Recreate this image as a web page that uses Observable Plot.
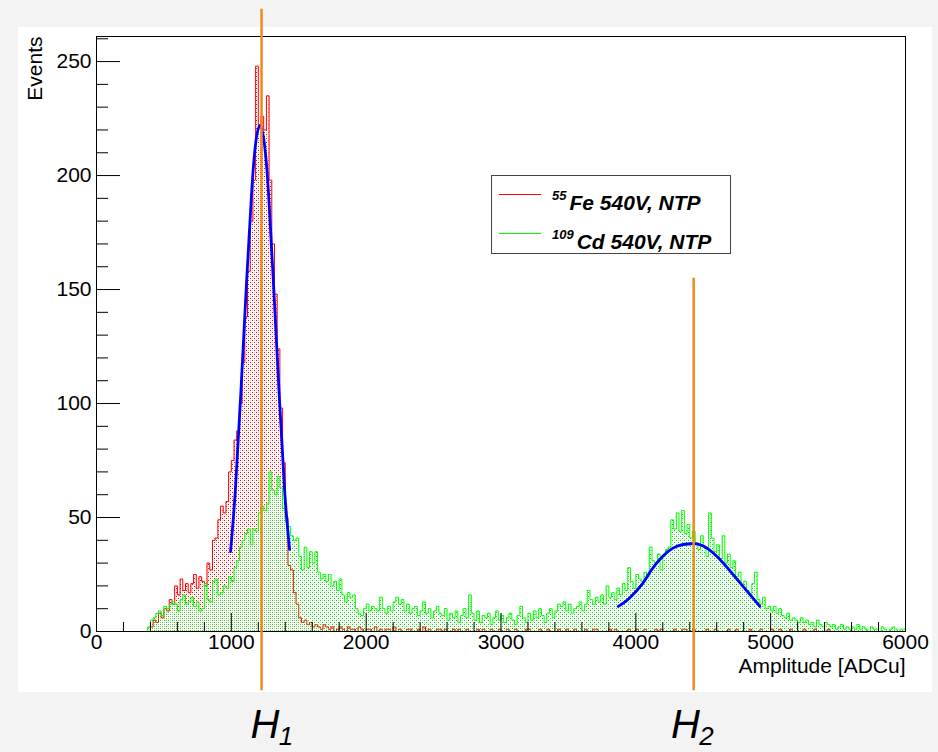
<!DOCTYPE html>
<html><head><meta charset="utf-8">
<script src="https://cdn.jsdelivr.net/npm/d3@7"></script>
<script src="https://cdn.jsdelivr.net/npm/@observablehq/plot@0.6"></script>
<style>
html,body{margin:0;padding:0;background:#f3f3f3;}
#wrap{position:relative;width:938px;height:752px;overflow:hidden;}
#panel{position:absolute;left:18px;top:27px;width:914px;height:665px;background:#fff;}
#chart{position:absolute;left:0;top:0;}
#legend{position:absolute;left:491px;top:175px;width:238px;height:77px;border:1px solid #444;background:#fff;
  font-family:"Liberation Sans",Arial,sans-serif;font-weight:bold;font-style:italic;font-size:21px;color:#000;}
#legend .sw{position:absolute;left:7px;width:42px;height:0;border-top:1px solid;}
#legend .lbl{position:absolute;left:60px;white-space:nowrap;line-height:24px;}
#legend .sup{font-size:13px;vertical-align:10px;margin-right:3px;}
</style></head>
<body>
<div id="wrap"><div id="panel"></div><div id="chart"></div><div id="legend"></div></div>
<script>
// ---- data ----
const binWidth = 20;
const feLabel = ["55", "Fe 540V, NTP"];
const cdLabel = ["109", "Cd 540V, NTP"];
const feStart = 400;
const feCounts = [
  2,5,4,8,6,10,9,14,12,20,16,23,18,21,17,21,25,19,24,22,20,30,27,40,41,49,55,52,57,70,
  75,84,88,100,118,138,158,180,198,248,222,226,220,235,198,170,148,124,98,74,50,29,
  27,17,12,6,4,5,3,4,2,3,2,1,3,2,
  1,2,0,1,2,1,0,2,1,1,0,2,1,0,1,
  1,0,2,0,1,0,1,1,0,2,0,1,0,0,1,1,0,0,1,0,2,0,1,0,0,
  1,1,0,1,0,0,1,0,1,0,0,1,0,0,0,1,0,1,0,0,1,0,0,1,0,
  0,1,0,0,1,0,0,0,1,1,0,0,0,1,0,0,1,0,0,0,1,0,0,1,0,
  0,1,0,0,0,1,0,0,1,1,0,0,0,0,1,0,1,0,0,0,0,1,0,0,1,
  0,0,1,0,0,0,1,0,1,0,0,0,0,1,0,0,1,1,0,0,1,0,0,0,0,
  1,0,0,1,0,0,0,0,1,0,0,1,0,0,0,0,1,0,0,0,1,0,0,0,1,
  0,0,1,0,0,0,1,0,0,0,0,1,0,0,0,1,0,0,0,0,1,0,0,0
];
const cdStart = 380;
const cdCounts = [
  2,5,6,8,9,7,11,10,12,13,12,
  9,14,16,12,13,15,11,13,9,10,21,14,13,22,23,16,17,20,19,24,
  22,28,31,37,40,43,45,38,45,44,52,55,53,56,70,62,60,68,63,54,
  48,46,42,40,41,33,27,37,28,35,30,35,26,23,25,22,25,20,22,18,
  23,16,13,17,15,16,10,8,7,10,12,9,11,10,9,15,10,8,11,9,
  13,15,12,14,9,12,8,10,11,7,9,13,8,10,6,9,11,8,7,10,
  5,8,6,9,4,7,10,6,16,8,5,9,4,7,6,8,3,6,9,5,
  7,4,6,8,5,3,7,11,6,4,8,5,9,6,10,7,4,8,10,6,
  9,12,11,13,9,12,8,10,11,13,9,12,18,14,12,15,13,16,12,20,
  15,17,14,19,16,21,18,28,22,19,25,23,22,26,24,37,31,30,34,27,
  33,36,37,49,45,52,44,53,43,47,41,44,39,36,42,37,33,52,41,35,
  38,32,42,30,34,28,31,24,26,20,22,18,16,21,26,14,12,15,10,11,
  9,11,8,10,7,6,8,5,6,5,4,6,4,5,3,4,2,5,3,2,
  4,3,2,3,1,2,3,1,2,1,2,1,3,1,2,1,0,2,1,1,
  0,2,1,0,1,2,1,0,1,1
];
const fit1X = [994,1030,1070,1110,1150,1180,1213,1245,1275,1315,1355,1395,1432];
const fit1Y = [35,62,104,150,192,214,222,214,193,150,104,62,36];
const fit2X = [3870,3950,4050,4110,4200,4300,4410,4500,4600,4700,4800,4920];
const fit2Y = [11,14.5,21,26.5,33,37.3,38.5,37.5,33,26.5,19.5,11];
const markerX = [1224, 4429];
const markerTop = [273, 155];
const markerBottom = [-26, -26];
const markerText = ["H", "H"];
const markerSub = ["1", "2"];
const markerTextX = [1250, 4368];
const xTicks = [0,1000,2000,3000,4000,5000,6000];
const yTicks = [0,50,100,150,200,250];
const xDomain = [0, 6000];
const yDomain = [0, 261];

// ---- build ----
function histRows(start, counts) {
  const rows = [];
  for (let x = xDomain[0]; x < start; x += binWidth) rows.push({x, y: 0});
  counts.forEach((c, i) => rows.push({x: start + i * binWidth, y: c}));
  for (let x = start + counts.length * binWidth; x < xDomain[1]; x += binWidth) rows.push({x, y: 0});
  rows.push({x: xDomain[1], y: 0});
  return rows;
}
const fe = histRows(feStart, feCounts);
const cd = histRows(cdStart, cdCounts);
const fit1 = fit1X.map((x, i) => ({x, y: fit1Y[i]}));
const fit2 = fit2X.map((x, i) => ({x, y: fit2Y[i]}));
const markers = markerX.map((x, i) => ({x, top: markerTop[i], bottom: markerBottom[i], t: markerText[i], s: markerSub[i], tx: markerTextX[i]}));
const xMinor = d3.range(0, 6001, 200).filter(d => d % 1000 !== 0);
const yMinor = d3.range(0, 261, 10).filter(d => d % 50 !== 0);

const W = 938, H = 752, mL = 96, mR = 33, mT = 36, mB = 121;
const fw = W - mL - mR, fh = H - mT - mB;
const font = "Liberation Sans, Arial, sans-serif";
const RED = "#ff0000", GREEN = "#00ff00", BLUE = "#0000ff", ORANGE = "#f08a1e";

const svg = Plot.plot({
  width: W, height: H,
  marginLeft: mL, marginRight: mR, marginTop: mT, marginBottom: mB,
  style: {fontFamily: font, background: "transparent", color: "black", overflow: "visible"},
  x: {domain: xDomain},
  y: {domain: yDomain},
  marks: [
    Plot.areaY(fe, {x: "x", y: "y", curve: "step-after", fill: "url(#dotRed)"}),
    Plot.lineY(fe, {x: "x", y: "y", curve: "step-after", stroke: RED, strokeWidth: 1}),
    Plot.areaY(cd, {x: "x", y: "y", curve: "step-after", fill: "url(#dotGreen)"}),
    Plot.lineY(cd, {x: "x", y: "y", curve: "step-after", stroke: GREEN, strokeWidth: 1}),
    Plot.line(fit1, {x: "x", y: "y", curve: "natural", stroke: BLUE, strokeWidth: 2.8}),
    Plot.line(fit2, {x: "x", y: "y", curve: "natural", stroke: BLUE, strokeWidth: 2.8}),
    Plot.tickY(yTicks, {y: d => d, insetRight: fw - 24, stroke: "#000"}),
    Plot.tickY(yMinor, {y: d => d, insetRight: fw - 12, stroke: "#000"}),
    Plot.tickX(xTicks, {x: d => d, insetTop: fh - 18, stroke: "#000"}),
    Plot.tickX(xMinor, {x: d => d, insetTop: fh - 9, stroke: "#000"}),
    Plot.frame({stroke: "#000", strokeWidth: 1}),
    Plot.axisY({ticks: yTicks, tickSize: 0, tickPadding: 5, label: null, fontSize: 21, tickFormat: d3.format("d")}),
    Plot.axisX({ticks: xTicks, tickSize: 0, tickPadding: 3, label: null, fontSize: 21, tickFormat: d3.format("d")}),
    Plot.text(["Events"], {frameAnchor: "top-left", rotate: -90, textAnchor: "end", dx: -69, fontSize: 21}),
    Plot.text(["Amplitude [ADCu]"], {frameAnchor: "bottom-right", textAnchor: "end", dy: 41, fontSize: 21}),
    Plot.ruleX(markers, {x: "x", y1: "bottom", y2: "top", stroke: ORANGE, strokeWidth: 2.5, clip: false}),
    Plot.text(markers, {x: "tx", text: "t", frameAnchor: "bottom", dy: 106, fontSize: 40, fontStyle: "italic"}),
    Plot.text(markers, {x: "tx", text: "s", frameAnchor: "bottom", dy: 113, dx: 21, fontSize: 26, fontStyle: "italic"})
  ]
});

const defs = d3.select(svg).insert("defs", ":first-child");
function dotPattern(id, color) {
  const p = defs.append("pattern").attr("id", id).attr("patternUnits", "userSpaceOnUse")
    .attr("width", 4).attr("height", 4);
  [[0, 0, 1], [2, 2, 1], [2, 0, 0.25], [0, 2, 0.25]].forEach(([x, y, o]) =>
    p.append("rect").attr("x", x).attr("y", y).attr("width", 1).attr("height", 1)
      .attr("fill", color).attr("fill-opacity", o));
}
dotPattern("dotRed", RED);
dotPattern("dotGreen", "#00dd00");
document.getElementById("chart").appendChild(svg);

// legend
const legend = d3.select("#legend");
[[feLabel, RED, 8], [cdLabel, GREEN, 47]].forEach(([lab, col, top]) => {
  legend.append("div").attr("class", "sw").style("top", (top + 10) + "px").style("border-color", col);
  const l = legend.append("div").attr("class", "lbl").style("top", top + "px");
  l.append("span").attr("class", "sup").text(lab[0]);
  l.append("span").text(lab[1]);
});
</script>
</body></html>
